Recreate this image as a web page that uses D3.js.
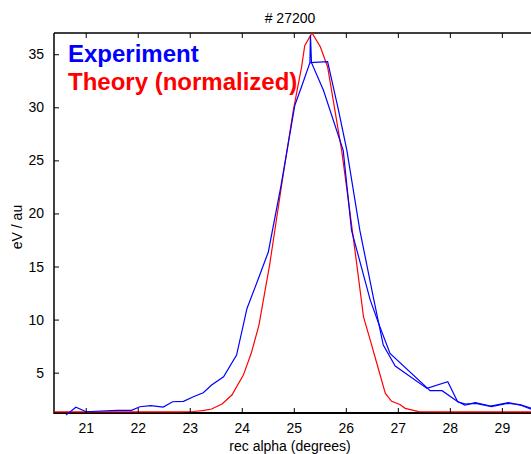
<!DOCTYPE html>
<html>
<head>
<meta charset="utf-8">
<script src="https://cdn.jsdelivr.net/npm/d3@7"></script>
<style>
  html, body { margin: 0; padding: 0; background: #fff; }
  svg { display: block; }
  text { font-family: "Liberation Sans", Arial, Helvetica, sans-serif; }
</style>
</head>
<body>
<svg id="chart" width="531" height="454"></svg>
<script>
// ---- data ----
const title = "# 27200";
const xLabel = "rec alpha (degrees)";
const yLabel = "eV / au";
const xTicks = [21, 22, 23, 24, 25, 26, 27, 28, 29];
const yTicks = [5, 10, 15, 20, 25, 30, 35];
const legendLabels = ["Experiment", "Theory (normalized)"];

// Experiment, scan 1 (angle, value)
const exp1X = [20.62, 20.81, 21.01, 21.29, 21.61, 21.88, 22.04, 22.25, 22.49, 22.67, 22.88, 23.07, 23.26, 23.42, 23.65, 23.90, 24.10, 24.32, 24.51, 24.75, 25.02, 25.15, 25.31, 25.32, 25.34, 25.57, 25.95, 26.11, 26.47, 26.63, 26.85, 27.62, 27.85, 28.14, 28.29, 28.49, 28.78, 29.13, 29.35, 29.60];
const exp1Y = [1.0, 1.74, 1.32, 1.39, 1.45, 1.45, 1.79, 1.89, 1.76, 2.26, 2.30, 2.73, 3.11, 3.83, 4.61, 6.66, 11.05, 13.87, 16.37, 22.5, 30.2, 31.96, 34.2, 36.8, 34.2, 31.6, 25.94, 18.4, 11.83, 9.64, 6.82, 3.3, 3.3, 2.3, 1.95, 2.17, 1.86, 2.17, 1.95, 1.5];
// Experiment, scan 2
const exp2X = [25.31, 25.65, 25.86, 26.02, 26.27, 26.54, 26.72, 26.95, 27.56, 27.96, 28.15, 28.30, 28.50, 28.80, 29.10, 29.35, 29.60];
const exp2Y = [34.2, 34.3, 29.7, 25.94, 18.4, 11.83, 7.6, 5.62, 3.52, 4.14, 2.26, 2.05, 2.1, 1.8, 2.1, 2.0, 1.6];
// Theory (normalized)
const theoX = [20.40, 21.00, 22.00, 22.80, 23.07, 23.25, 23.42, 23.62, 23.81, 24.03, 24.18, 24.33, 24.54, 24.77, 24.99, 25.15, 25.21, 25.35, 25.51, 25.65, 25.92, 26.05, 26.20, 26.34, 26.47, 26.56, 26.76, 26.88, 27.04, 27.14, 27.40, 28.00, 29.00, 29.60];
const theoY = [1.3, 1.3, 1.3, 1.3, 1.34, 1.42, 1.58, 2.05, 2.89, 4.77, 6.8, 9.48, 15.3, 22.8, 29.7, 33.8, 35.8, 37.0, 35.7, 33.8, 25.94, 21.2, 15.6, 10.26, 8.07, 6.5, 3.05, 2.3, 2.0, 1.64, 1.33, 1.3, 1.3, 1.3];

// ---- layout ----
const svg = d3.select("#chart");
const mLeft = 54, mRight = 531, mTop = 33, mBottom = 413;
const x = d3.scaleLinear().domain([20.39, 29.56]).range([mLeft, mRight]);
const y = d3.scaleLinear().domain([1.2, 37]).range([mBottom, mTop]);

const toPts = (xs, ys) => xs.map((v, i) => [v, ys[i]]);
const line = d3.line().x(d => x(d[0])).y(d => y(d[1]));

// frame lines (drawn first so curves sit on top)
svg.append("line").attr("x1", mLeft).attr("x2", mRight).attr("y1", mBottom).attr("y2", mBottom).attr("stroke", "#000").attr("stroke-width", 2);
svg.append("line").attr("x1", mLeft).attr("x2", mRight).attr("y1", mTop).attr("y2", mTop).attr("stroke", "#000").attr("stroke-width", 1.5);
svg.append("line").attr("x1", mLeft).attr("x2", mLeft).attr("y1", mTop).attr("y2", mBottom + 1).attr("stroke", "#000").attr("stroke-width", 1.5);

svg.append("defs").append("clipPath").attr("id", "clip")
  .append("rect").attr("x", mLeft).attr("y", mTop - 2).attr("width", mRight - mLeft).attr("height", mBottom - mTop + 6);

const g = svg.append("g").attr("clip-path", "url(#clip)");
g.append("path").datum(toPts(theoX, theoY)).attr("d", line)
  .attr("fill", "none").attr("stroke", "#ff0000").attr("stroke-width", 1.2);
g.append("path").datum(toPts(exp2X, exp2Y)).attr("d", line)
  .attr("fill", "none").attr("stroke", "#0000ff").attr("stroke-width", 1.2);
g.append("path").datum(toPts(exp1X, exp1Y)).attr("d", line)
  .attr("fill", "none").attr("stroke", "#0000ff").attr("stroke-width", 1.2);

// axes
const font = "14px";
const xAxis = d3.axisBottom(x).tickValues(xTicks).tickSizeInner(-5).tickSizeOuter(0).tickPadding(10).tickFormat(d3.format("d"));
const gx = svg.append("g").attr("transform", `translate(0,${mBottom})`).call(xAxis);
gx.select(".domain").remove();
gx.selectAll("text").attr("font-size", font).attr("fill", "#000").attr("font-family", null);
gx.selectAll("line").attr("stroke", "#000");

const xAxisTop = d3.axisTop(x).tickValues(xTicks).tickSizeInner(-5).tickSizeOuter(0).tickFormat("");
const gxt = svg.append("g").attr("transform", `translate(0,${mTop})`).call(xAxisTop);
gxt.select(".domain").remove();
gxt.selectAll("line").attr("stroke", "#000");

const yAxis = d3.axisLeft(y).tickValues(yTicks).tickSizeInner(-5).tickSizeOuter(0).tickPadding(10).tickFormat(d3.format("d"));
const gy = svg.append("g").attr("transform", `translate(${mLeft},0)`).call(yAxis);
gy.select(".domain").remove();
gy.selectAll("text").attr("font-size", font).attr("fill", "#000").attr("font-family", null);
gy.selectAll("line").attr("stroke", "#000");

// title & labels
svg.append("text").attr("x", 290).attr("y", 23).attr("text-anchor", "middle").attr("font-size", font).text(title);
svg.append("text").attr("x", 290).attr("y", 451).attr("text-anchor", "middle").attr("font-size", font).text(xLabel);
svg.append("text").attr("transform", "translate(22,227) rotate(-90)").attr("text-anchor", "middle").attr("font-size", font).text(yLabel);

// legend text
svg.append("text").attr("x", 68).attr("y", 62).attr("font-size", "24px").attr("font-weight", "bold").attr("fill", "#0000ff").text(legendLabels[0]);
svg.append("text").attr("x", 68).attr("y", 90).attr("font-size", "24px").attr("font-weight", "bold").attr("fill", "#ff0000").text(legendLabels[1]);
</script>
</body>
</html>
